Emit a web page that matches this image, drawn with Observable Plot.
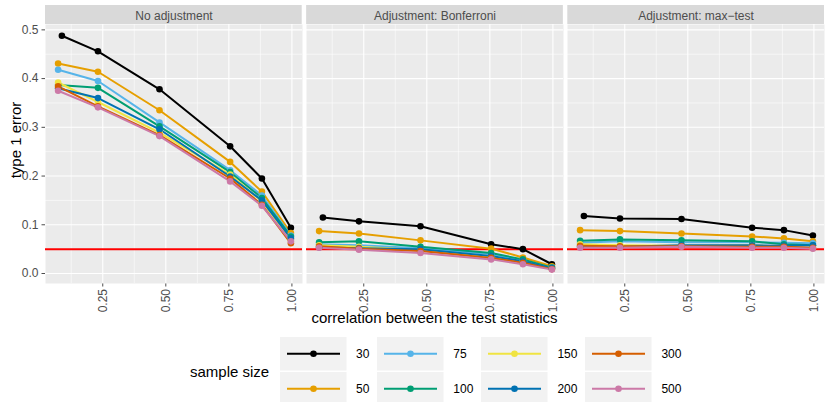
<!DOCTYPE html>
<html><head><meta charset="utf-8">
<script src="https://cdn.jsdelivr.net/npm/d3@7"></script>
<script src="https://cdn.jsdelivr.net/npm/@observablehq/plot@0.6"></script>
<style>
body{margin:0;background:#fff;font-family:"Liberation Sans",Arial,sans-serif;}
#chart{width:825px;height:402px;position:relative;overflow:hidden;background:#fff}
</style></head><body><div id="chart"></div>
<script>
// ---- data ----
const panels = ["No adjustment", "Adjustment: Bonferroni", "Adjustment: max\u2212test"];
const sampleSizes = [30, 50, 75, 100, 150, 200, 300, 500];
const colors = ["#000000", "#E69F00", "#56B4E9", "#009E73", "#F0E442", "#0072B2", "#D55E00", "#CC79A7"];
const corr30 = [0.088, 0.231, 0.475, 0.755, 0.881, 0.996];
const corrOther = [0.073, 0.231, 0.475, 0.755, 0.881, 0.996];
// rows follow sampleSizes order
const errNoAdjustment = [
  [0.488, 0.456, 0.378, 0.261, 0.195, 0.094],
  [0.431, 0.414, 0.335, 0.229, 0.168, 0.083],
  [0.418, 0.395, 0.310, 0.212, 0.160, 0.078],
  [0.387, 0.381, 0.302, 0.208, 0.155, 0.076],
  [0.392, 0.352, 0.289, 0.203, 0.148, 0.070],
  [0.380, 0.360, 0.296, 0.199, 0.150, 0.072],
  [0.384, 0.343, 0.284, 0.195, 0.141, 0.062],
  [0.375, 0.341, 0.282, 0.189, 0.139, 0.066]
];
const errBonferroni = [
  [0.115, 0.107, 0.097, 0.060, 0.050, 0.019],
  [0.087, 0.082, 0.068, 0.051, 0.033, 0.015],
  [0.060, 0.058, 0.052, 0.040, 0.027, 0.012],
  [0.064, 0.066, 0.055, 0.042, 0.029, 0.012],
  [0.058, 0.055, 0.048, 0.035, 0.024, 0.010],
  [0.054, 0.052, 0.050, 0.036, 0.025, 0.011],
  [0.056, 0.051, 0.046, 0.032, 0.022, 0.009],
  [0.053, 0.049, 0.042, 0.029, 0.019, 0.008]
];
const errMaxTest = [
  [0.118, 0.113, 0.112, 0.094, 0.089, 0.078],
  [0.089, 0.087, 0.082, 0.076, 0.072, 0.066],
  [0.063, 0.066, 0.064, 0.064, 0.063, 0.062],
  [0.067, 0.070, 0.068, 0.066, 0.060, 0.058],
  [0.060, 0.058, 0.057, 0.058, 0.055, 0.052],
  [0.055, 0.055, 0.058, 0.058, 0.057, 0.058],
  [0.057, 0.056, 0.056, 0.055, 0.055, 0.053],
  [0.053, 0.053, 0.055, 0.053, 0.053, 0.051]
];
const alphaLevel = 0.05;
const xMajor = [0.25, 0.5, 0.75, 1.0];
const xMinor = [0.125, 0.375, 0.625, 0.875];
const yMajor = [0, 0.1, 0.2, 0.3, 0.4, 0.5];
const yMinor = [0.05, 0.15, 0.25, 0.35, 0.45];

// ---- build table ----
const panelValues = [errNoAdjustment, errBonferroni, errMaxTest];
const rows = [];
panels.forEach((p, pi) => sampleSizes.forEach((n, si) => panelValues[pi][si].forEach((v, k) => {
  rows.push({panel: p, n: String(n), corr: (n === 30 ? corr30 : corrOther)[k], err: v});
})));

const W = 825, H = 335, mL = 45, mR = 1, mT = 24, mB = 52;
const padIn = 0.017;

const plot = Plot.plot({
  width: W, height: H,
  marginLeft: mL, marginRight: mR, marginTop: mT, marginBottom: mB,
  style: {fontFamily: "Liberation Sans, Arial, sans-serif", fontSize: "12px", color: "#4D4D4D", background: "white", overflow: "visible"},
  facet: {data: rows, x: "panel"},
  fx: {domain: panels, axis: "top", label: null, tickSize: 0, tickPadding: 5, paddingInner: padIn, paddingOuter: 0},
  x: {domain: [0.023, 1.042], ticks: xMajor, tickFormat: d3.format(".2f"), tickRotate: -90, tickSize: 3.5, tickPadding: 2, label: null},
  y: {domain: [-0.0205, 0.511], ticks: yMajor, tickFormat: d3.format(".1f"), tickSize: 3.5, tickPadding: 3.5, label: null},
  color: {domain: sampleSizes.map(String), range: colors},
  marks: [
    Plot.frame({fill: "#EBEBEB", stroke: "none"}),
    Plot.ruleX(xMinor, {stroke: "white", strokeWidth: 0.55}),
    Plot.ruleY(yMinor, {stroke: "white", strokeWidth: 0.55}),
    Plot.ruleX(xMajor, {stroke: "white", strokeWidth: 1.1}),
    Plot.ruleY(yMajor, {stroke: "white", strokeWidth: 1.1}),
    Plot.ruleY([alphaLevel], {stroke: "#FF0000", strokeWidth: 2}),
    Plot.line(rows, {x: "corr", y: "err", z: "n", stroke: "n", strokeWidth: 2}),
    Plot.dot(rows, {x: "corr", y: "err", fill: "n", r: 3.3})
  ]
});

const chart = document.getElementById("chart");
chart.appendChild(plot);

// strips behind the facet labels
const fxScale = d3.scaleBand().domain(panels).range([mL, W - mR]).paddingInner(padIn).paddingOuter(0);
const svgNS = "http://www.w3.org/2000/svg";
const stripG = document.createElementNS(svgNS, "g");
const firstG = plot.querySelector("g");
plot.insertBefore(stripG, firstG);
d3.select(stripG).selectAll("rect").data(panels).join("rect")
  .attr("x", d => fxScale(d)).attr("y", 5).attr("width", fxScale.bandwidth()).attr("height", 19)
  .attr("fill", "#D9D9D9");
d3.select(plot).selectAll('g[aria-label="fx-axis"] text').attr("fill", "#1A1A1A");

// axis titles
const svg = d3.select(plot);
svg.append("text").attr("x", (mL + W - mR) / 2).attr("y", 323).attr("text-anchor", "middle")
  .attr("fill", "black").style("font-size", "15px").text("correlation between the test statistics");
svg.append("text").attr("transform", "translate(21,140) rotate(-90)").attr("text-anchor", "middle")
  .attr("fill", "black").style("font-size", "15px").text("type 1 error");

// legend
const leg = d3.select(chart).append("div")
  .style("display", "flex").style("align-items", "center")
  .style("margin-left", "190px").style("margin-top", "2px").style("font-family", "Liberation Sans, Arial, sans-serif");
leg.append("div").style("width", "90px").style("font-size", "15px").style("color", "black").text("sample size");
const nCols = 4;
for (let c = 0; c < nCols; c++) {
  const col = leg.append("div").style("display", "flex").style("flex-direction", "column").style("gap", "1.5px").style("margin-right", "8px");
  for (let r = 0; r < 2; r++) {
    const i = c * 2 + r;
    const row = col.append("div").style("display", "flex").style("align-items", "center");
    const ks = row.append("svg").attr("width", 66.5).attr("height", 33.5);
    ks.append("rect").attr("width", 66.5).attr("height", 33.5).attr("fill", "#F2F2F2");
    ks.append("line").attr("x1", 7).attr("x2", 60).attr("y1", 16.75).attr("y2", 16.75).attr("stroke", colors[i]).attr("stroke-width", 2);
    ks.append("circle").attr("cx", 33.5).attr("cy", 16.75).attr("r", 3.3).attr("fill", colors[i]);
    row.append("span").style("margin-left", "9.5px").style("font-size", "12px").style("color", "black").text(sampleSizes[i]);
  }
}
</script></body></html>
